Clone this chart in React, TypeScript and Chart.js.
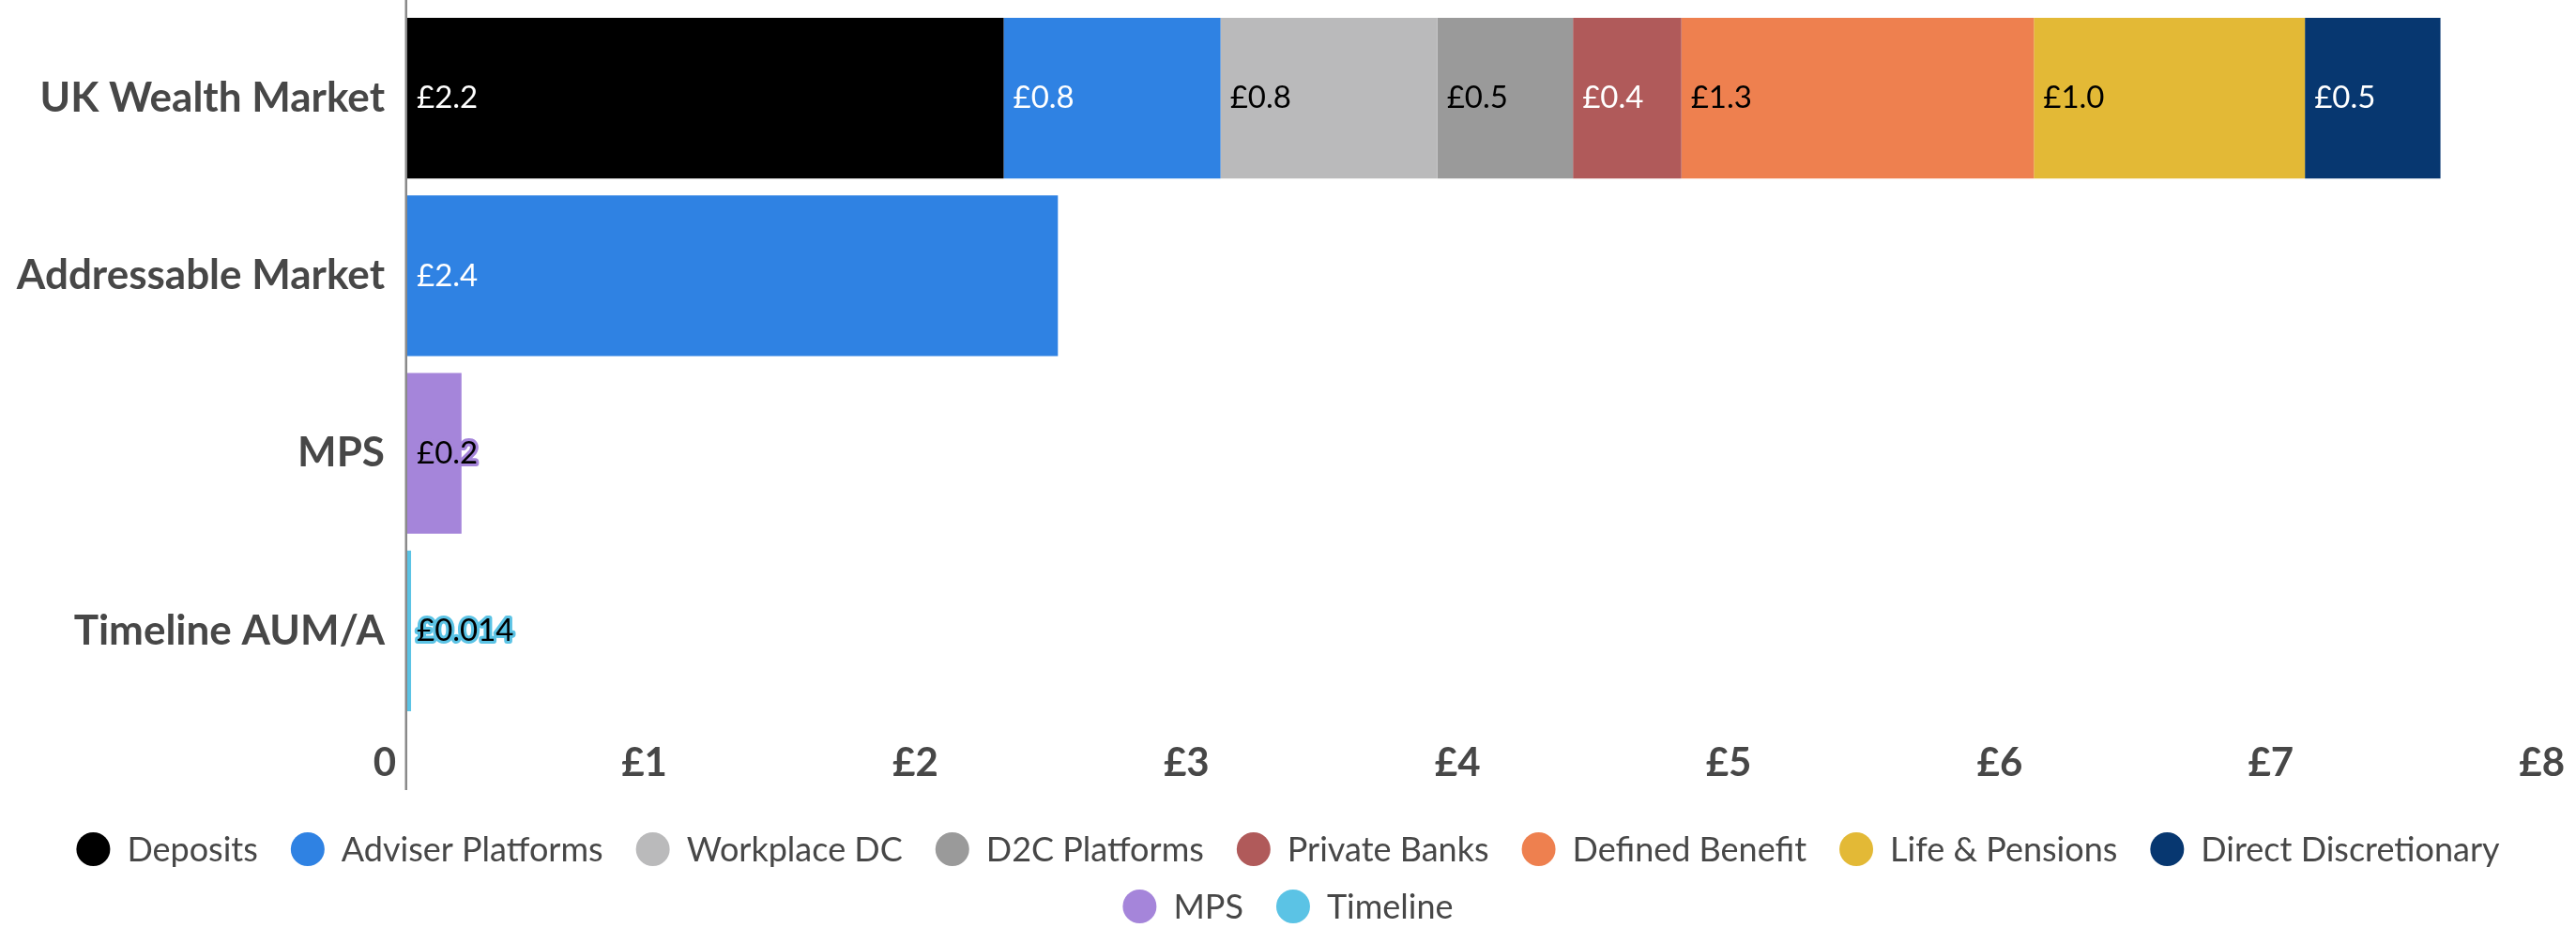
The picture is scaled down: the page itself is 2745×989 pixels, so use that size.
import React, { useEffect, useRef } from "react";
import { Chart, registerables } from "chart.js";

Chart.register(...registerables);

// ---------- data ----------
const categories = ["UK Wealth Market", "Addressable Market", "MPS", "Timeline AUM/A"];

const seriesNames = [
  "Deposits",
  "Adviser Platforms",
  "Workplace DC",
  "D2C Platforms",
  "Private Banks",
  "Defined Benefit",
  "Life & Pensions",
  "Direct Discretionary",
  "MPS",
  "Timeline",
];

const deposits = [2.2, null, null, null];
const adviserPlatforms = [0.8, 2.4, null, null];
const workplaceDC = [0.8, null, null, null];
const d2cPlatforms = [0.5, null, null, null];
const privateBanks = [0.4, null, null, null];
const definedBenefit = [1.3, null, null, null];
const lifePensions = [1.0, null, null, null];
const directDiscretionary = [0.5, null, null, null];
const mpsValues = [null, null, 0.2, null];
const timelineValues = [null, null, null, 0.014];

const seriesValues = [
  deposits,
  adviserPlatforms,
  workplaceDC,
  d2cPlatforms,
  privateBanks,
  definedBenefit,
  lifePensions,
  directDiscretionary,
  mpsValues,
  timelineValues,
];

const xTickLabels = ["0", "£1", "£2", "£3", "£4", "£5", "£6", "£7", "£8"];

// ---------- styles ----------
const seriesColors = [
  "#000000",
  "#2F82E3",
  "#BABABB",
  "#9A9A9A",
  "#B05A5A",
  "#EE804F",
  "#E3B936",
  "#073770",
  "#A585DA",
  "#5BC3E5",
];
const labelColors = [
  "#FFFFFF",
  "#FFFFFF",
  "#000000",
  "#000000",
  "#FFFFFF",
  "#000000",
  "#000000",
  "#FFFFFF",
  "#000000",
  "#000000",
];
const labelOutlined = [false, false, false, false, false, false, false, false, true, true];

const FONT = "Lato, 'Open Sans', sans-serif";
const TEXT_GREY = "#474747";

function fmt(v: number): string {
  return "£" + (v < 0.1 ? v.toFixed(3) : v.toFixed(1));
}

const axisLinePlugin = {
  id: "axisLine",
  beforeDatasetsDraw(chart: any) {
    const ctx = chart.ctx;
    const x = chart.scales.x.getPixelForValue(0);
    ctx.save();
    ctx.fillStyle = "#8a8a8a";
    ctx.fillRect(x - 2.5, 0, 2.5, chart.chartArea.bottom + 75);
    ctx.restore();
  },
};

const barLabelPlugin = {
  id: "barLabels",
  afterDatasetsDraw(chart: any) {
    const ctx = chart.ctx;
    ctx.save();
    ctx.font = `400 33px ${FONT}`;
    ctx.textBaseline = "middle";
    ctx.textAlign = "left";
    chart.data.datasets.forEach((ds: any, i: number) => {
      const meta = chart.getDatasetMeta(i);
      meta.data.forEach((el: any, j: number) => {
        const v = ds.data[j];
        if (v == null) return;
        const p = el.getProps(["x", "y", "base"], true);
        const left = Math.min(p.x, p.base);
        const tx = left + 10;
        const ty = p.y;
        const text = fmt(v);
        if (labelOutlined[i]) {
          ctx.lineWidth = 6;
          ctx.lineJoin = "round";
          ctx.strokeStyle = seriesColors[i];
          ctx.strokeText(text, tx, ty);
        }
        ctx.fillStyle = labelColors[i];
        ctx.fillText(text, tx, ty);
      });
    });
    ctx.restore();
  },
};

const legendPlugin = {
  id: "customLegend",
  afterDraw(chart: any) {
    const ctx = chart.ctx;
    const fontSize = 36;
    const circle = 36;
    const circleGap = 18;
    const itemGap = 35;
    const rowHeight = 61;
    const maxRow = 2640;
    ctx.save();
    ctx.font = `400 ${fontSize}px ${FONT}`;
    const items = chart.data.datasets.map((ds: any, i: number) => {
      const w = ctx.measureText(ds.label).width;
      return { label: ds.label, color: seriesColors[i], width: circle + circleGap + w };
    });
    const rows: any[][] = [[]];
    let rowW = 0;
    items.forEach((it: any) => {
      const add = (rows[rows.length - 1].length ? itemGap : 0) + it.width;
      if (rows[rows.length - 1].length && rowW + add > maxRow) {
        rows.push([it]);
        rowW = it.width;
      } else {
        rows[rows.length - 1].push(it);
        rowW += add;
      }
    });
    const top = chart.scales.x.bottom + 45;
    ctx.textBaseline = "middle";
    ctx.textAlign = "left";
    rows.forEach((row, r) => {
      const total = row.reduce((s: number, it: any, k: number) => s + it.width + (k ? itemGap : 0), 0);
      let x = (chart.width - total) / 2;
      const y = top + r * rowHeight;
      row.forEach((it: any) => {
        ctx.fillStyle = it.color;
        ctx.beginPath();
        ctx.arc(x + circle / 2, y, circle / 2, 0, Math.PI * 2);
        ctx.fill();
        ctx.fillStyle = TEXT_GREY;
        ctx.fillText(it.label, x + circle + circleGap, y + 1);
        x += it.width + itemGap;
      });
    });
    ctx.restore();
  },
};

export default function App() {
  const canvasRef = useRef<HTMLCanvasElement | null>(null);

  useEffect(() => {
    const canvas = canvasRef.current;
    if (!canvas) return;
    const chart = new Chart(canvas, {
      type: "bar",
      data: {
        labels: categories,
        datasets: seriesNames.map((name, i) => ({
          label: name,
          data: seriesValues[i] as any,
          backgroundColor: seriesColors[i],
          borderWidth: 0,
          categoryPercentage: 1,
          barPercentage: 0.904,
        })),
      },
      options: {
        indexAxis: "y",
        responsive: false,
        maintainAspectRatio: false,
        animation: false,
        devicePixelRatio: 1,
        layout: { padding: { top: 10, right: -7, bottom: 129, left: 0 } },
        scales: {
          x: {
            type: "linear",
            stacked: true,
            min: 0,
            max: 8,
            position: "bottom",
            grid: { display: false, drawTicks: false },
            border: { display: false },
            ticks: {
              stepSize: 1,
              align: "end",
              labelOffset: -12,
              padding: 21,
              color: TEXT_GREY,
              font: { family: FONT, size: 42, weight: "bold" },
              callback: (v: any) => xTickLabels[Number(v)] ?? "",
            },
            afterFit: (s: any) => {
              s.height = 93;
              s.paddingLeft = 0;
              s.paddingRight = -7;
            },
          },
          y: {
            type: "category",
            stacked: true,
            grid: { display: false, drawTicks: false },
            border: { display: false },
            ticks: {
              padding: 24,
              color: TEXT_GREY,
              font: { family: FONT, size: 44, weight: "bold" },
            },
            afterFit: (s: any) => {
              s.width = 434;
              s.paddingTop = 0;
              s.paddingBottom = 0;
              s.paddingRight = -7;
            },
          },
        },
        plugins: {
          legend: { display: false },
          tooltip: { enabled: false },
        },
      } as any,
      plugins: [axisLinePlugin, barLabelPlugin, legendPlugin],
    });
    return () => chart.destroy();
  }, []);

  return (
    <div style={{ position: "absolute", left: 0, top: 0, width: 2745, height: 989, background: "#fff" }}>
      <canvas ref={canvasRef} width={2745} height={989} style={{ width: 2745, height: 989, display: "block" }} />
    </div>
  );
}
